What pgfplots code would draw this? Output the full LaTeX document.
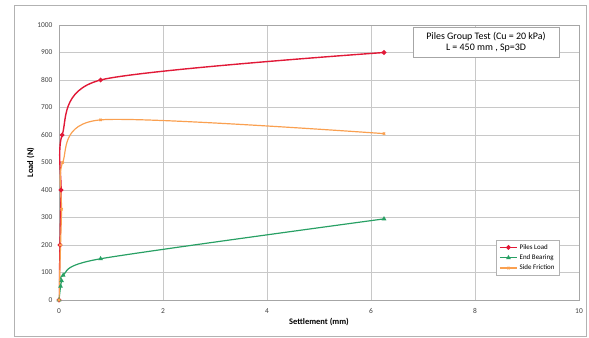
\documentclass[border=0pt]{standalone}
\usepackage{pgfplots}
\pgfplotsset{compat=1.18}
\usepackage{fontspec}
\setmainfont{Carlito}
\definecolor{pred}{RGB}{225,25,55}
\definecolor{pgreen}{RGB}{40,160,100}
\definecolor{porange}{RGB}{250,160,80}
\definecolor{gridc}{RGB}{200,200,200}
\begin{document}
\begin{tikzpicture}
\path[use as bounding box] (-59bp,-38bp) rectangle (530bp,300bp);
\draw[gray!60, line width=0.8pt] (-45bp,-36bp) rectangle (527bp,295bp);
\begin{axis}[
  scale only axis, width=520bp, height=275bp,
  xmin=0, xmax=10, ymin=0, ymax=1000,
  xtick={0,2,...,10}, ytick={0,100,...,1000},
  grid=major, grid style={gridc, line width=0.5pt},
  axis line style={gray!70},
  tick style={draw=none},
  tick label style={font=\fontsize{7.5}{8.5}\selectfont, text=black!75},
  yticklabel style={xshift=-3pt},
  xticklabel style={yshift=-5pt},
  /pgf/number format/assume math mode=true,
  /pgf/number format/1000 sep={},
  xlabel={Settlement (mm)}, ylabel={Load (N)},
  label style={font=\bfseries\fontsize{8.5}{9.5}\selectfont},
  xlabel style={yshift=2pt},
  ylabel style={yshift=-4pt},
  legend style={at={(0.963,0.218)}, anchor=north east, font=\fontsize{7}{8}\selectfont, draw=gray!60, row sep=0pt},
  legend cell align=left,
]
\addplot[pred, line width=1.4pt, smooth, tension=0.45, mark=*, mark size=1.6pt] coordinates {
 (0,0) (0.02,200) (0.04,400) (0.06,600) (0.8,800) (6.25,900)};
\addlegendentry{Piles Load}
\addplot[pgreen, line width=1.2pt, smooth, tension=0.45, mark=triangle*, mark size=1.6pt] coordinates {
 (0,0) (0.03,50) (0.05,70) (0.08,90) (0.8,150) (6.25,295)};
\addlegendentry{End Bearing}
\addplot[porange, line width=1.2pt, smooth, tension=0.45, mark=x, mark size=1.6pt] coordinates {
 (0,0) (0.03,200) (0.05,330) (0.07,500) (0.8,655) (6.25,605)};
\addlegendentry{Side Friction}
\end{axis}
\node[draw=gray!70, fill=white, align=center, font=\fontsize{10}{10.5}\selectfont, minimum width=146bp, minimum height=30bp, inner sep=1pt] at (427bp,258bp) {Piles Group Test (Cu = 20 kPa)\\L = 450 mm , Sp=3D};
\end{tikzpicture}
\end{document}
